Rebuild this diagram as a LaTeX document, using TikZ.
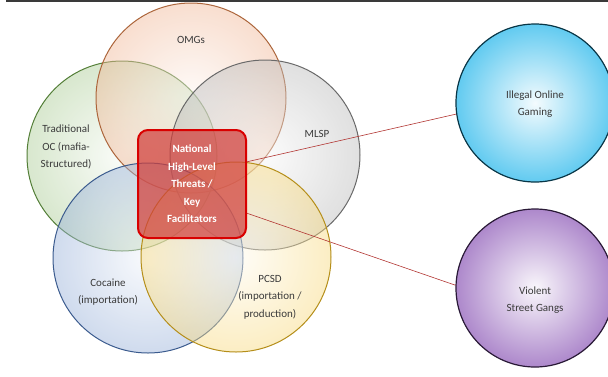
\documentclass[tikz,border=0pt]{standalone}
\usepackage{fontspec}
\setmainfont{Carlito}
\usepackage{xcolor}
\definecolor{omgcolor}{HTML}{E6864F}
\definecolor{occolor}{HTML}{6FA84A}
\definecolor{mlspcolor}{HTML}{8C8C8C}
\definecolor{cocainecolor}{HTML}{4F79BE}
\definecolor{pcsdcolor}{HTML}{F2BE22}
\definecolor{gamingcolor}{HTML}{1EB4EA}
\definecolor{gangcolor}{HTML}{8A55B5}
\definecolor{threatcolor}{HTML}{D2403C}
\definecolor{labelcolor}{HTML}{3A3A3A}

\tikzset{
    ring/.style = {circle, minimum size = 190pt, inner sep = 0pt, line width = 1pt,
        draw = #1!75!black, fill opacity = 0.45, shade,
        inner color = #1!8, outer color = #1!60},
    bubble/.style = {circle, minimum size = 158pt, inner sep = 0pt, line width = 1.2pt,
        draw = #1!30!black, shade, inner color = #1!5, outer color = #1!70},
    tag/.style = {text = labelcolor, align = center, font = \fontsize{11}{17.5}\selectfont},
    link/.style = {draw = threatcolor!85!black, line width = 0.6pt}
}

\begin{document}
\begin{tikzpicture}
        \useasboundingbox (0pt, 0pt) rectangle (608pt, -376pt);
        \draw [labelcolor, line width = 2pt] (6pt, -1pt) -- (608pt, -1pt);

        % Circles
        \node [ring = occolor] (oc) at (122pt, -156pt) {};
        \node [ring = omgcolor] (omg) at (191pt, -98pt) {};
        \node [ring = mlspcolor] (mlsp) at (265pt, -155pt) {};
        \node [ring = cocainecolor] (cocaine) at (148pt, -258pt) {};
        \node [ring = pcsdcolor] (pcsd) at (236pt, -257pt) {};

        % Centre box
        \node [draw = red!85!black, line width = 2pt, rounded corners = 10pt,
            fill = threatcolor, fill opacity = 0.72, text opacity = 1,
            minimum width = 108pt, minimum height = 108pt,
            text = white, align = center, font = \bfseries\fontsize{11}{17.5}\selectfont]
            (threat) at (192pt, -184pt) {National\\High-Level\\Threats /\\Key\\Facilitators};

        % Outer circles
        \node [bubble = gamingcolor] (gaming) at (535pt, -103pt) {};
        \node [bubble = gangcolor] (gang) at (535pt, -288pt) {};

        % Labels
        \node [tag] (omglabel) at (191pt, -40pt) {OMGs};
        \node [tag] (oclabel) at (66pt, -147pt) {Traditional\\OC (mafia-\\Structured)};
        \node [tag] (mlsplabel) at (317pt, -134pt) {MLSP};
        \node [tag] (cocainelabel) at (108pt, -292pt) {Cocaine\\(importation)};
        \node [tag] (pcsdlabel) at (270pt, -297pt) {PCSD\\(importation /\\production)};
        \node [tag] (gaminglabel) at (535pt, -104pt) {Illegal Online\\Gaming};
        \node [tag] (ganglabel) at (535pt, -300pt) {Violent\\Street Gangs};

        % Lines
        \draw [link] (threat.22) -- (gaming.188);
        \draw [link] (threat.-28) -- (gang.178);

    \end{tikzpicture}
\end{document}
